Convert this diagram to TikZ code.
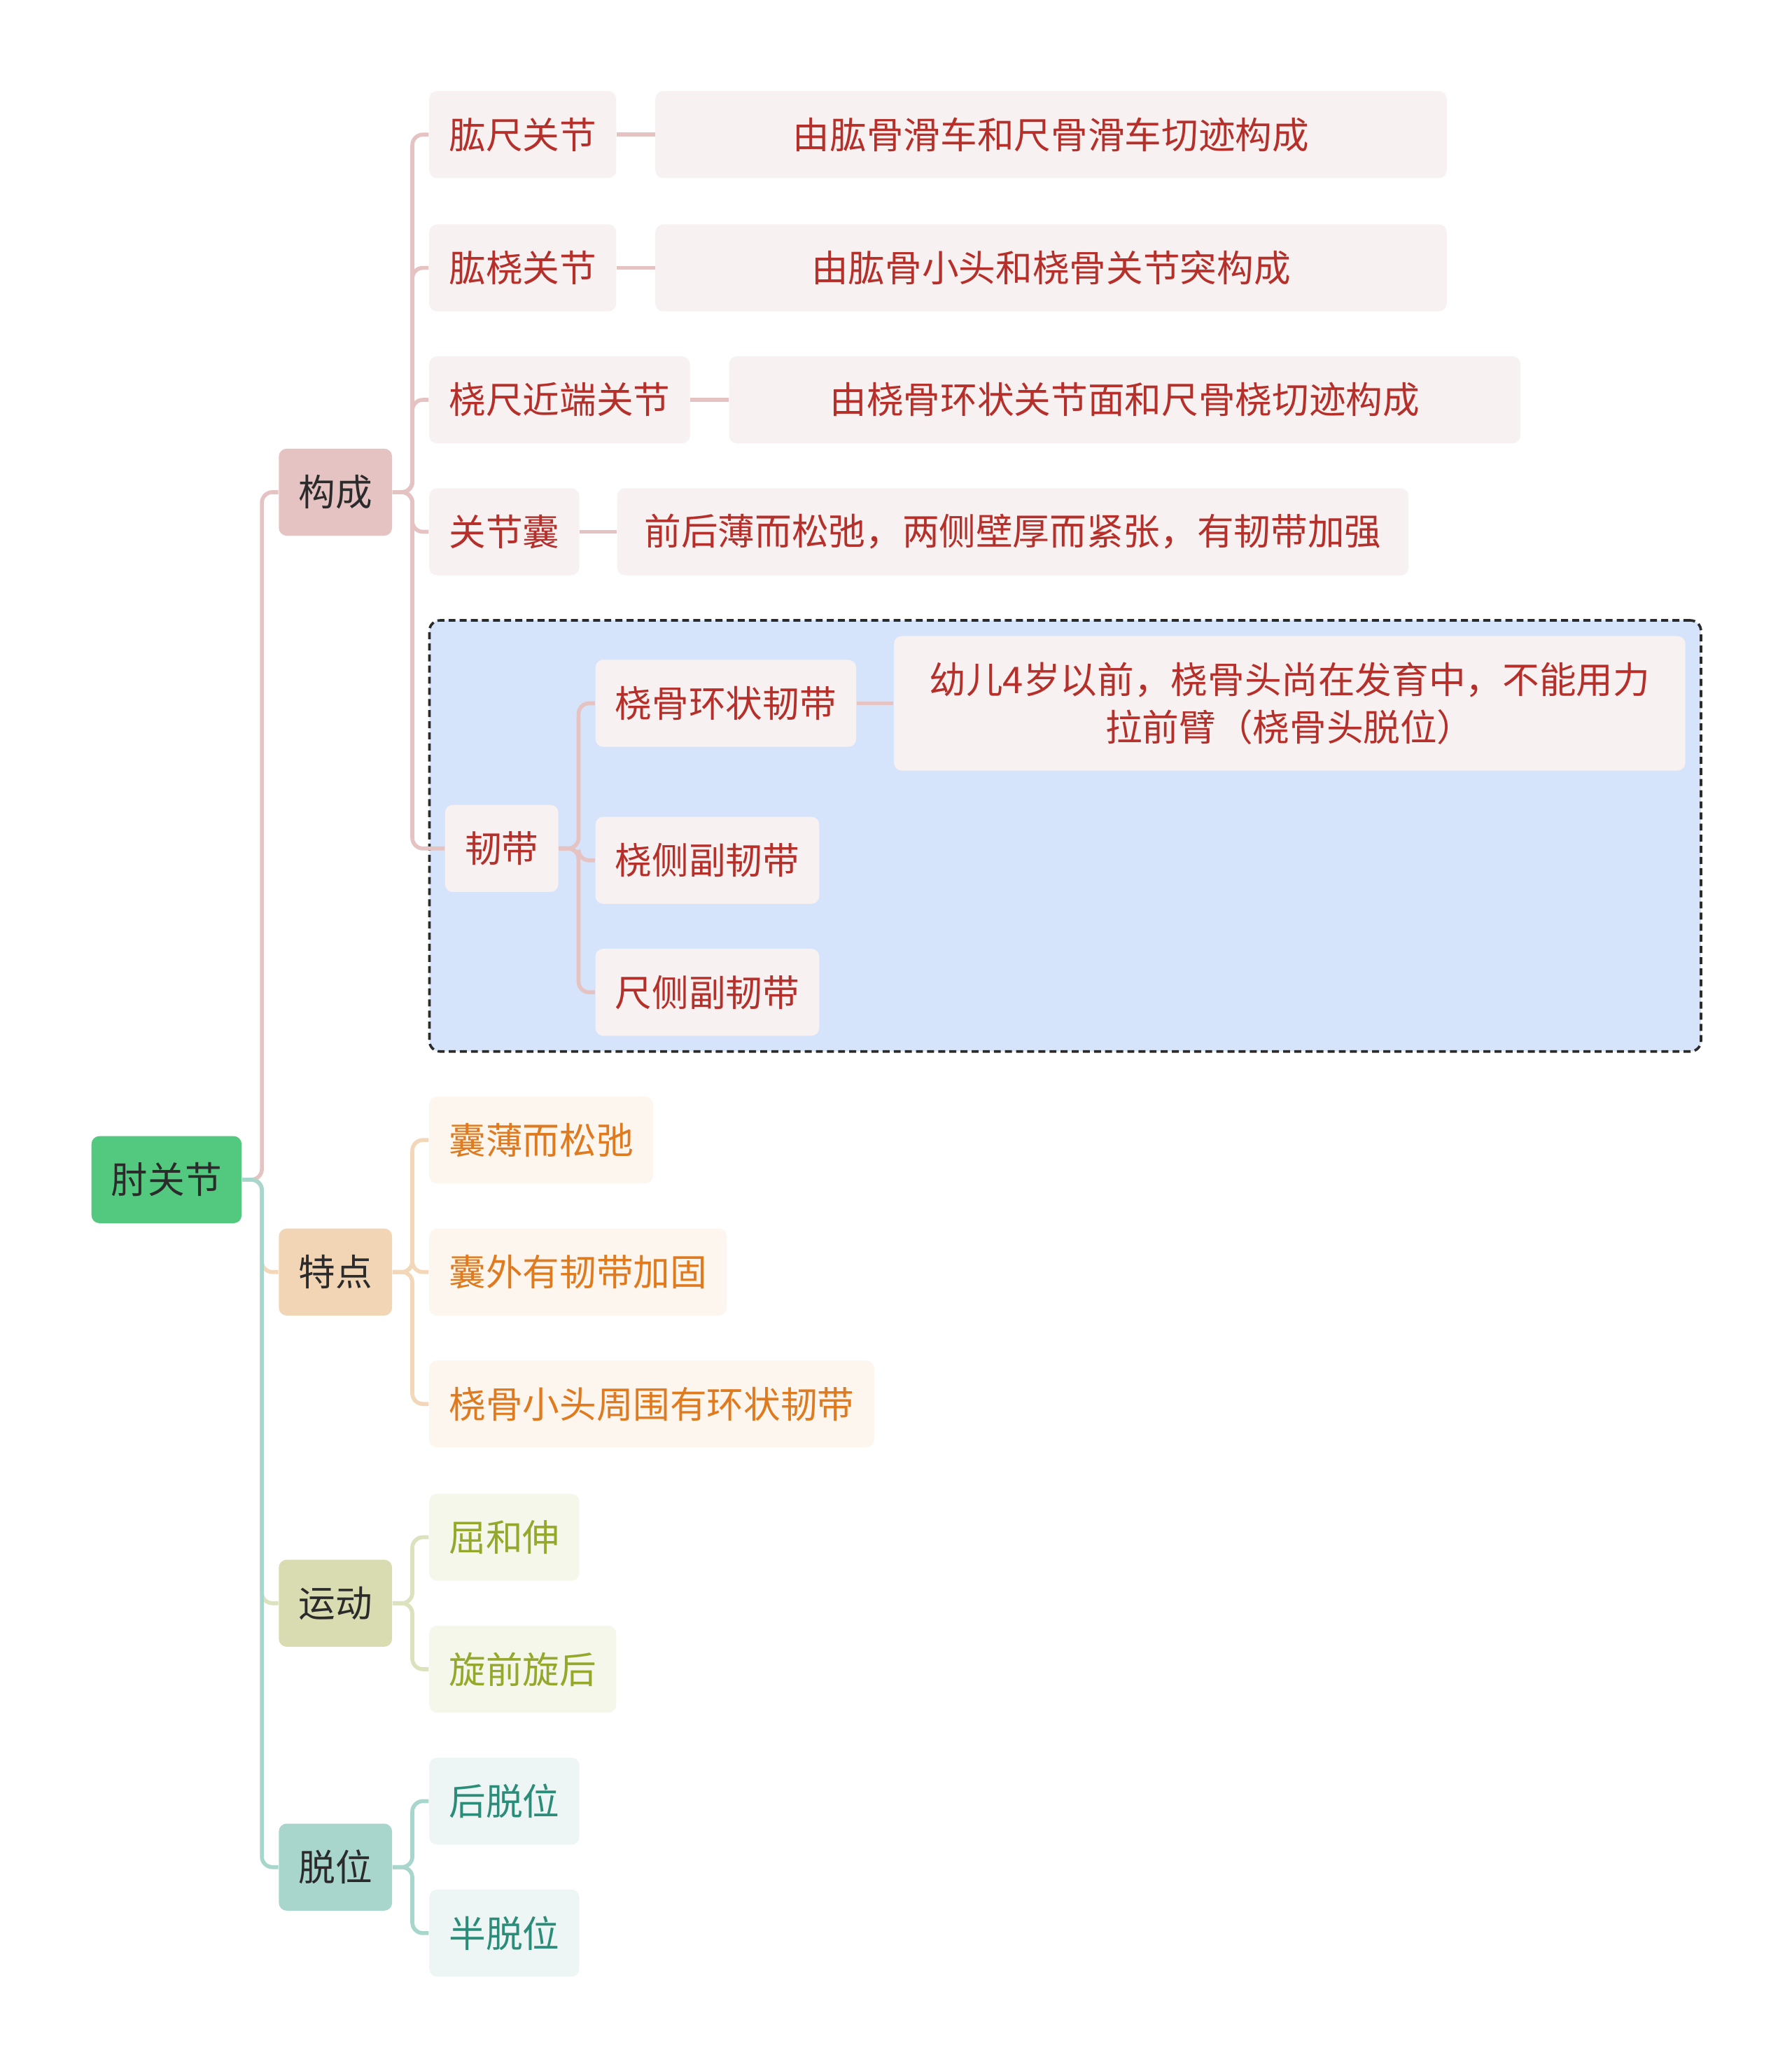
\documentclass[tikz,border=0pt]{standalone}
\usepackage{fontspec}
\setmainfont{Noto Sans CJK SC}
\usetikzlibrary{positioning,fit,backgrounds}

\definecolor{darktxt}{HTML}{2B2B2B}
\definecolor{rootfill}{HTML}{52C97F}
\definecolor{gcfill}{HTML}{E6C3C3}
\definecolor{gcsub}{HTML}{F8F1F1}
\definecolor{gctxt}{HTML}{B5302A}
\definecolor{tdfill}{HTML}{F2D5B5}
\definecolor{tdsub}{HTML}{FDF6EF}
\definecolor{tdtxt}{HTML}{E07A1F}
\definecolor{tdline}{HTML}{F2D7B8}
\definecolor{ydfill}{HTML}{D9DCB0}
\definecolor{ydsub}{HTML}{F5F7EB}
\definecolor{ydtxt}{HTML}{95A82B}
\definecolor{ydline}{HTML}{DCE2BD}
\definecolor{twfill}{HTML}{A8D5CC}
\definecolor{twsub}{HTML}{EDF6F4}
\definecolor{twtxt}{HTML}{2A8C79}
\definecolor{groupfill}{HTML}{D6E4FB}

\tikzset{
  box/.style={rounded corners=0.12cm, minimum height=1.32cm, inner xsep=0.3cm,
    inner ysep=0pt, anchor=west, font=\fontsize{15.9pt}{19pt}\selectfont},
  rootbox/.style={box, fill=rootfill, text=darktxt},
  topic/.style={box, fill=#1, text=darktxt},
  gcitem/.style={box, fill=gcsub, text=gctxt},
  gcleaf/.style={gcitem, minimum width=12cm, align=center},
  tditem/.style={box, fill=tdsub, text=tdtxt},
  yditem/.style={box, fill=ydsub, text=ydtxt},
  twitem/.style={box, fill=twsub, text=twtxt},
  link/.style={line width=1.7pt, rounded corners=0.16cm, draw=#1},
}

\begin{document}
\begin{tikzpicture}[x=0.02cm, y=-0.02cm]
\useasboundingbox (0,0) rectangle (1358,1568);

% root and main topics
\node[rootbox] (root) at (69,894) {肘关节};
\node[topic=gcfill] (gc) at (211,373) {构成};
\node[topic=tdfill] (td) at (211,964) {特点};
\node[topic=ydfill] (yd) at (211,1215) {运动};
\node[topic=twfill] (tw) at (211,1415) {脱位};

% 构成
\node[gcitem] (gc1) at (325,102) {肱尺关节};
\node[gcitem] (gc2) at (325,203) {肱桡关节};
\node[gcitem] (gc3) at (325,303) {桡尺近端关节};
\node[gcitem] (gc4) at (325,403) {关节囊};
\node[gcleaf, right=0.58cm of gc1] (gc1l) {由肱骨滑车和尺骨滑车切迹构成};
\node[gcleaf, right=0.58cm of gc2] (gc2l) {由肱骨小头和桡骨关节突构成};
\node[gcleaf, right=0.58cm of gc3] (gc3l) {由桡骨环状关节面和尺骨桡切迹构成};
\node[gcleaf, right=0.56cm of gc4] (gc4l) {前后薄而松弛，两侧壁厚而紧张，有韧带加强};

% 韧带
\node[gcitem] (rd) at (337,643) {韧带};
\node[gcitem] (rd1) at (451,533) {桡骨环状韧带};
\node[gcitem] (rd2) at (451,652) {桡侧副韧带};
\node[gcitem] (rd3) at (451,752) {尺侧副韧带};
\node[gcleaf, right=0.56cm of rd1, minimum height=2.04cm,
  font=\fontsize{15.9pt}{20.5pt}\selectfont] (rd1l)
  {幼儿4岁以前，桡骨头尚在发育中，不能用力\\拉前臂（桡骨头脱位）};

\begin{scope}[on background layer]
  \node[fit=(rd)(rd1l)(rd3), inner sep=0.23cm, rounded corners=0.16cm,
    fill=groupfill, draw=darktxt, line width=1.1pt,
    dash pattern=on 3pt off 1.8pt] (rdgroup) {};
\end{scope}

% 特点, 运动, 脱位
\foreach \n/\y/\t in {td1/864/囊薄而松弛, td2/964/囊外有韧带加固, td3/1064/桡骨小头周围有环状韧带}
  \node[tditem] (\n) at (325,\y) {\t};
\foreach \n/\y/\t in {yd1/1165/屈和伸, yd2/1265/旋前旋后}
  \node[yditem] (\n) at (325,\y) {\t};
\foreach \n/\y/\t in {tw1/1365/后脱位, tw2/1465/半脱位}
  \node[twitem] (\n) at (325,\y) {\t};

% connectors
\draw[link=gcfill] (root.east) -- ++(15,0) |- (gc.west);
\draw[link=tdline] (root.east) -- ++(15,0) |- (td.west);
\draw[link=ydline] (root.east) -- ++(15,0) |- (yd.west);
\draw[link=twfill] (root.east) -- ++(15,0) |- (tw.west);

\foreach \n in {gc1,gc2,gc3,gc4,rd}
  \draw[link=gcfill] (gc.east) -- ++(15,0) |- (\n.west);
\foreach \n in {gc1,gc2,gc3,gc4}
  \draw[link=gcfill] (\n.east) -- (\n l.west);
\foreach \n in {rd1,rd2,rd3}
  \draw[link=gcfill] (rd.east) -- ++(15,0) |- (\n.west);
\draw[link=gcfill] (rd1.east) -- (rd1l.west);

\foreach \n in {td1,td2,td3}
  \draw[link=tdline] (td.east) -- ++(15,0) |- (\n.west);
\foreach \n in {yd1,yd2}
  \draw[link=ydline] (yd.east) -- ++(15,0) |- (\n.west);
\foreach \n in {tw1,tw2}
  \draw[link=twfill] (tw.east) -- ++(15,0) |- (\n.west);
\end{tikzpicture}
\end{document}
